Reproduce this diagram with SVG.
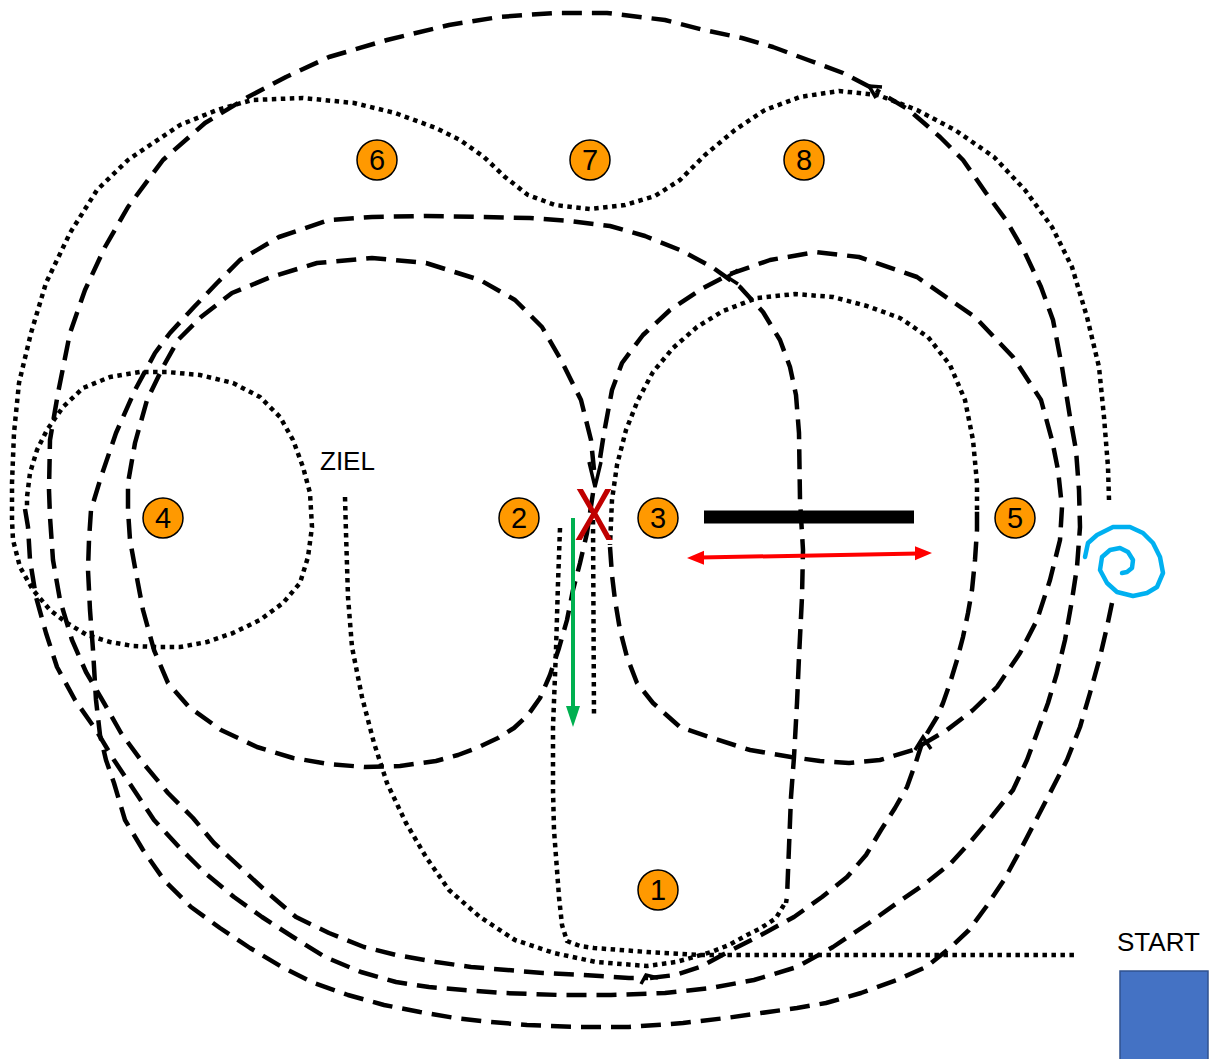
<svg xmlns="http://www.w3.org/2000/svg" width="1214" height="1059" viewBox="0 0 1214 1059">
<style>
.dash{fill:none;stroke:#000;stroke-width:4.5;stroke-dasharray:20 10;stroke-linejoin:round}
.dot{fill:none;stroke:#000;stroke-width:4.5;stroke-dasharray:4.5 4.5;stroke-linejoin:round}
.ah{fill:none;stroke:#000;stroke-width:3.5}
.num circle{fill:#FF9900;stroke:#000;stroke-width:1.5}
.num text{font-family:"Liberation Sans",Arial,sans-serif;font-size:29px;text-anchor:middle;fill:#000}
.lbl{font-family:"Liberation Sans",Arial,sans-serif;fill:#000}
</style>
<rect width="1214" height="1059" fill="#fff"/>
<g id="connectors">
<path id="c1" class="dash" d="M870,87 L843,73 L808,60 L773,47 L742,38 L704,30 L665,20 L607,13 L554,13 L499,17 L449,25 L387,40 L329,57 L286,77 L248,97 L205,123 L163,160 L128,207 L105,247 L85,290 L70,333 L58,393 L50,440 L49,490 L50,517 L53,560 L60,600 L72,640 L86,672 L104,703 L121,733 L143,763 L168,793 L193,818 L214,843 L243,870 L268,893 L296,917 L329,933 L364,947 L396,955 L436,962 L471,967 L507,970 L543,973 L583,975 L629,978 L648,978"/>
<path id="c1b" class="dash" d="M650,978 L675,975 L700,967 L726,953 L761,935 L794,917 L822,897 L847,877 L866,855 L881,830 L895,808 L907,787 L916,762 L923,740 L937,717 L943,703 L950,683 L957,660 L963,637 L968,613 L972,590 L975,560 L977,530 L977,510"/>
<path id="p5" class="dot" d="M977,510 L977,483 L973,440 L965,400 L950,365 L928,337 L900,318 L867,306 L833,297 L795,294 L757,298 L723,311 L697,327 L673,348 L653,372 L638,400 L626,430 L617,465 L612,500 L610,545"/>
<path id="rloop" class="dash" d="M610,547 L612,575 L615,600 L620,630 L627,657 L637,683 L653,703 L680,727 L709,737 L750,750 L791,757 L820,761 L849,763 L880,760 L913,750 L947,730 L973,710 L997,687 L1020,653 L1037,620 L1050,580 L1060,540 L1062,507 L1058,470 L1052,440 L1041,400 L1013,357 L975,317 L917,277 L859,257 L816,252 L770,260 L730,274 L703,288 L670,310 L643,335 L622,363 L612,390 L604,433 L599,465"/>
<path id="lloop" class="dash" d="M593,493 L587,533 L580,563 L573,590 L567,620 L559,648 L550,675 L540,698 L528,715 L514,728 L498,738 L479,747 L458,755 L436,761 L400,766 L364,767 L329,764 L293,758 L257,747 L221,730 L189,707 L168,683 L154,650 L143,610 L136,573 L130,540 L128,510 L128,483 L135,443 L147,400 L163,367 L178,340 L201,317 L232,293 L271,277 L317,263 L372,258 L426,263 L480,280 L515,300 L542,327 L561,360 L581,400 L591,440 L594,470"/>
<path id="mid" class="dash" d="M1112,603 L1107,627 L1100,657 L1090,693 L1080,727 L1067,760 L1050,793 L1036,820 L1022,847 L1004,880 L986,907 L969,930 L951,947 L926,967 L897,980 L861,993 L826,1003 L797,1008 L761,1013 L726,1018 L683,1023 L629,1027 L580,1027 L527,1025 L491,1022 L455,1018 L420,1012 L384,1005 L348,995 L314,983 L282,967 L250,948 L220,928 L191,907 L164,880 L143,850 L125,820 L114,783 L106,760 L100,735 L96,700 L93,650 L90,610 L88,570 L89,540 L91,510 L101,477 L116,433 L135,390 L155,353 L170,333 L194,307 L217,283 L240,260 L279,237 L329,220 L372,217 L426,216 L484,217 L530,218 L570,221 L610,226 L645,236 L680,250 L712,267 L740,287 L763,312 L780,340 L790,367 L796,395 L799,433 L800,500 L803,550 L802,597 L799,657 L797,703 L794,757 L791,797 L789,847 L787,897 L786,903"/>
<path id="la" class="dash" d="M25,509 L28,527 L30,560 L36,597 L46,633 L57,667 L75,700 L96,730 L114,760 L134,790 L154,820 L179,847 L205,873 L234,897 L262,917 L293,937 L325,957 L361,972 L396,982 L429,987 L464,990 L504,993 L560,995 L611,995 L665,993 L711,988 L754,980 L797,967 L833,947 L869,923 L897,903 L926,883 L951,863 L972,840 L993,815 L1013,790 L1027,760 L1037,733 L1048,703 L1057,673 L1065,640 L1072,600 L1077,567 L1080,527 L1079,490 L1076,450 L1070,417 L1062,367 L1053,320 L1041,287 L1025,253 L1006,220 L986,193 L963,160 L940,137 L909,110 L876,90"/>
<path id="p1" class="dot" d="M1109,500 L1108,467 L1104,417 L1099,367 L1087,317 L1072,267 L1052,227 L1025,190 L994,157 L955,130 L917,110 L878,95 L839,91 L800,97 L765,110 L735,130 L705,155 L680,180 L655,196 L625,205 L590,209 L555,205 L528,195 L505,177 L484,157 L460,140 L436,128 L395,113 L354,103 L303,98 L252,100 L217,110 L180,125 L150,145 L128,160 L97,190 L70,233 L46,283 L31,333 L19,383 L14,433 L12,483 L12,520 L13,540 L20,567 L33,590 L50,610 L67,623 L87,635 L110,642 L133,646 L157,647 L180,647 L207,642 L233,633 L260,620 L283,603 L300,583 L308,557 L312,527 L310,493 L303,467 L293,440 L280,417 L260,397 L233,383 L200,375 L167,372 L140,372 L110,377 L83,388 L63,407 L47,430 L37,450 L30,473 L27,497 L27,508"/>
<path id="p2" class="dot" d="M345,497 L346,533 L348,597 L352,647 L362,697 L374,743 L387,783 L406,823 L426,857 L449,890 L480,917 L515,940 L554,953 L596,962 L647,966 L676,962 L694,957 L711,952 L729,945 L747,935 L761,928 L776,918 L785,903"/>
<path id="p3" class="dot" d="M560,528 L558,583 L556,650 L553,727 L553,790 L554,830 L557,870 L559,897 L562,925 L567,941 L580,946 L594,948 L647,952 L701,955 L1074,955"/>
<path id="p4" class="dot" d="M593,520 L594,717"/>
<g id="arrowheads">
<path class="ah" d="M876,98 L869,86 L882,87"/>
<path class="ah" d="M738,270 L727,277 L738,284"/>
<path class="ah" d="M589,462 L595,487 L601,462"/>
<path class="ah" d="M915,750 L923,737 L931,749"/>
<path class="ah" d="M641,984 L646,975 L658,978"/>
</g>
</g>
<g id="bar"><line x1="704" y1="517" x2="914" y2="517" stroke="#000" stroke-width="13"/></g>
<g id="red-arrow">
<line x1="700" y1="557.6" x2="919" y2="553.4" stroke="#FF0000" stroke-width="4"/>
<path d="M687,558 L704,550.7 L704,564.7 Z M932,553 L915,546.3 L915,560.3 Z" fill="#FF0000"/>
</g>
<g id="green-arrow">
<line x1="573" y1="518" x2="573" y2="708" stroke="#00B050" stroke-width="4"/>
<path d="M566,706 L580,706 L573,727 Z" fill="#00B050"/>
</g>
<g id="spiral"><path d="M1085,557 L1088,543 L1097,535 L1113,527 L1130,527 L1143,533 L1153,543 L1160,557 L1163,573 L1157,587 L1147,593 L1133,596 L1117,592 L1107,583 L1100,570 L1102,557 L1110,550 L1120,548 L1128,552 L1133,560 L1132,568 L1127,572 L1122,573" fill="none" stroke="#00B0F0" stroke-width="4.5" stroke-linecap="round" stroke-linejoin="round"/></g>
<g id="xmark"><text transform="translate(594,540) scale(0.8,1)" text-anchor="middle" font-family="Liberation Sans, Arial, sans-serif" font-size="74" fill="#C00000">X</text></g>
<g id="n6" class="num"><circle cx="377" cy="160" r="20"/><text x="377" y="170">6</text></g>
<g id="n7" class="num"><circle cx="590" cy="160" r="20"/><text x="590" y="170">7</text></g>
<g id="n8" class="num"><circle cx="804" cy="160" r="20"/><text x="804" y="170">8</text></g>
<g id="n4" class="num"><circle cx="163" cy="518" r="20"/><text x="163" y="528">4</text></g>
<g id="n2" class="num"><circle cx="519" cy="518" r="20"/><text x="519" y="528">2</text></g>
<g id="n3" class="num"><circle cx="658" cy="518" r="20"/><text x="658" y="528">3</text></g>
<g id="n5" class="num"><circle cx="1015" cy="518" r="20"/><text x="1015" y="528">5</text></g>
<g id="n1" class="num"><circle cx="658" cy="890" r="20"/><text x="658" y="900">1</text></g>
<g id="ziel"><text class="lbl" x="320" y="470" font-size="26">ZIEL</text></g>
<g id="start"><text class="lbl" x="1117" y="951" font-size="26">START</text><rect x="1120" y="971" width="88" height="92" fill="#4472C4" stroke="#2F528F" stroke-width="1.5"/></g>
</svg>
